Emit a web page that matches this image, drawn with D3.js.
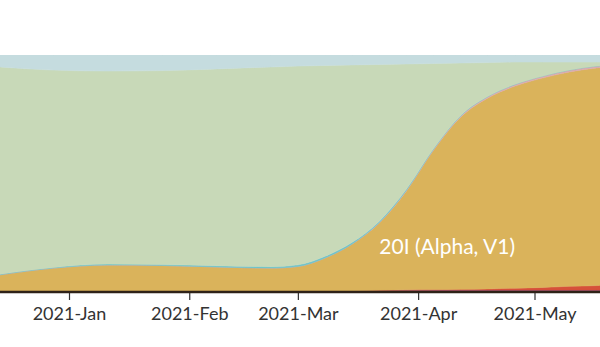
<!DOCTYPE html>
<html>
<head>
<meta charset="utf-8">
<script src="https://cdn.jsdelivr.net/npm/d3@7"></script>
<style>
  html, body { margin: 0; padding: 0; background: #fff; }
  svg { display: block; }
</style>
</head>
<body>
<svg id="chart" width="600" height="347"></svg>
<script>
// ---- data (percent of samples, stacked bottom -> top) ----
const dates = ["2020-12-14","2020-12-28","2021-01-11","2021-01-25","2021-02-08","2021-02-22",
  "2021-03-01","2021-03-08","2021-03-15","2021-03-22","2021-03-29","2021-04-05","2021-04-12",
  "2021-04-19","2021-04-26","2021-05-03","2021-05-10","2021-05-17","2021-05-24"];
const seriesNames = ["purple","red","alpha","pink","teal","green","blue"];
const purple = [0,0,0,0,0,0,0,0,0,0.2,0.3,0.3,0.3,0.3,0.3,0.3,0.3,0.3,0.3];
const red    = [0,0,0,0,0,0,0,0,0,0.1,0.2,0.3,0.4,0.6,0.9,1.2,1.7,2.0,3.5];
const alpha  = [6.8,9.7,11.0,10.8,10.2,9.7,10.4,14.0,19.9,28.5,41.9,59.1,73.0,80.9,85.7,88.8,90.8,92.2,91.5];
const pink   = [0,0,0,0,0,0,0,0,0,0.2,0.3,0.4,0.5,0.6,0.7,0.8,0.8,0.8,0.6];
const teal   = [0.3,0.3,0.4,0.4,0.5,0.6,0.7,0.7,0.7,0.6,0.5,0.3,0.2,0.1,0.1,0,0,0,0];
const green  = [87.8,83.6,81.8,82.2,83.4,84.6,84.3,80.9,75.1,66.4,53.0,36.0,22.2,14.3,9.4,6.0,3.4,1.7,1.1];
const blue   = [5.1,6.4,6.8,6.6,5.9,5.1,4.7,4.4,4.2,4.0,3.8,3.6,3.4,3.2,3.0,3.0,3.0,3.0,3.0];
const tickDates = ["2021-01-01","2021-02-01","2021-03-01","2021-04-01","2021-05-01"];
const labelText = "20I (Alpha, V1)";
const labelDate = "2021-03-22";

const colors = {
  purple: "#7a4c9c", red: "#d6503a", alpha: "#dab35b", pink: "#d8aab0",
  teal: "#6fc4ca", green: "#c8d9b8", blue: "#c5dcdf"
};

const parse = d3.utcParse("%Y-%m-%d");
const valuesByName = {purple, red, alpha, pink, teal, green, blue};
const table = dates.map((d, i) => {
  const row = {date: parse(d)};
  seriesNames.forEach(n => row[n] = valuesByName[n][i]);
  return row;
});

const svg = d3.select("#chart");
const yTop = 55, yBottom = 291;

const x = d3.scaleUtc()
  .domain([parse("2021-01-01"), parse("2021-05-01")])
  .range([69, 534.5]);

const stack = d3.stack().keys(seriesNames).offset(d3.stackOffsetExpand);
const layers = stack(table);
const yy = d3.scaleLinear().domain([0, 1]).range([yBottom, yTop]);

const area = d3.area()
  .x(d => x(d.data.date))
  .y0(d => yy(d[0]))
  .y1(d => yy(d[1]))
  .curve(d3.curveMonotoneX);

svg.append("defs").append("clipPath").attr("id", "clip")
  .append("rect").attr("x", 0).attr("y", yTop).attr("width", 600).attr("height", yBottom - yTop);

svg.append("g").attr("clip-path", "url(#clip)")
  .selectAll("path").data(layers).join("path")
  .attr("d", area)
  .attr("fill", d => colors[d.key])
  .attr("stroke", d => colors[d.key])
  .attr("stroke-width", 0.5);

// label
svg.append("text")
  .attr("x", x(parse(labelDate)))
  .attr("y", 254)
  .attr("fill", "#ffffff")
  .attr("font-family", "Lato, sans-serif")
  .attr("font-size", 21)
  .text(labelText);

// axis
const axis = d3.axisBottom(x)
  .tickValues(tickDates.map(parse))
  .tickFormat(d3.utcFormat("%Y-%b"))
  .tickSize(8)
  .tickSizeOuter(0);

const g = svg.append("g").attr("transform", `translate(0,${yBottom + 1})`).call(axis);
g.select(".domain").remove();
g.append("line").attr("x1", 0).attr("x2", 600).attr("y1", 0).attr("y2", 0)
  .attr("stroke", "#2e2218").attr("stroke-width", 2.5);
g.selectAll(".tick line").attr("stroke", "#333").attr("stroke-width", 1.2);
g.selectAll(".tick text")
  .attr("fill", "#333")
  .attr("font-family", "Lato, sans-serif")
  .attr("font-size", 18)
  .attr("dy", "0.95em");
</script>
</body>
</html>
